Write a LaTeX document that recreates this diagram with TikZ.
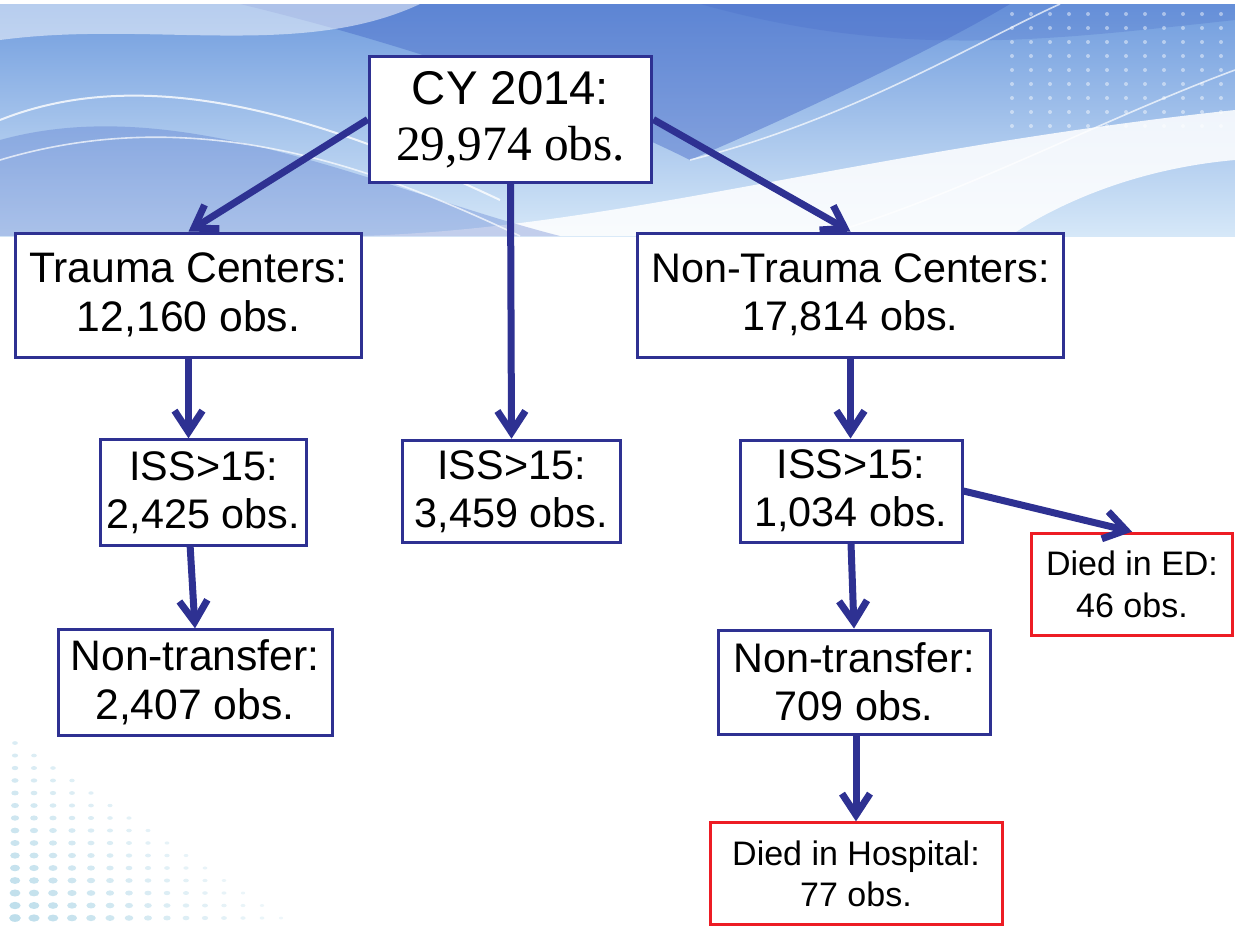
\documentclass[tikz,border=0pt]{standalone}
\usepackage{fontspec}
\setmainfont{Liberation Sans}
\newfontfamily\obsserif{Liberation Serif}
\usetikzlibrary{arrows.meta}

\definecolor{navy}{RGB}{46,49,146}
\definecolor{diedred}{RGB}{237,28,36}
\definecolor{skyA}{RGB}{112,156,222}
\definecolor{skyB}{RGB}{214,232,248}
\definecolor{skyC}{RGB}{70,105,200}
\definecolor{dotblue}{RGB}{186,220,234}

\tikzset{
  obsbox/.style={draw=navy, line width=2.25pt, fill=white, align=center, inner sep=0pt,
    font=\fontsize{31}{36}\selectfont},
  bigobs/.style={font=\fontsize{32}{37}\selectfont},
  diedbox/.style={obsbox, draw=diedred, font=\fontsize{25.5}{31}\selectfont},
  flow/.style={navy, line width=5.25pt, -{Straight Barb[length=16pt,width=21pt]}},
}

\begin{document}
\begin{tikzpicture}[x=0.75pt,y=0.75pt,yscale=-1,xscale=1]
\useasboundingbox (0,0) rectangle (1235,926);

%Banner
\shade[top color=skyA, bottom color=skyB] (0,4) rectangle (1235,236);
\fill[white, opacity=0.85] (360,236) .. controls (620,228) and (860,150) .. (1235,110) -- (1235,160) .. controls (1120,170) and (1040,215) .. (1010,236) -- cycle;
\fill[skyC, opacity=0.45] (240,4) .. controls (430,50) and (590,110) .. (690,160) .. controls (830,100) and (950,40) .. (1010,4) -- cycle;
\fill[skyC, opacity=0.3] (0,140) .. controls (180,90) and (380,190) .. (560,236) -- (0,236) -- cycle;
\fill[skyC, opacity=0.25] (700,4) .. controls (900,60) and (1050,40) .. (1235,20) -- (1235,4) -- cycle;
\fill[white, opacity=0.5] (0,40) .. controls (150,20) and (300,60) .. (420,4) -- (0,4) -- cycle;
\draw[white, line width=1.5pt, opacity=0.8] (0,120) .. controls (150,60) and (330,120) .. (500,200);
\draw[white, line width=1.2pt, opacity=0.7] (0,160) .. controls (200,100) and (380,170) .. (520,236);
\draw[white, line width=1.2pt, opacity=0.7] (690,160) .. controls (850,120) and (980,40) .. (1060,4);
\draw[white, line width=1.2pt, opacity=0.7] (820,236) .. controls (950,200) and (1100,120) .. (1235,70);
\foreach \i in {0,...,11}
  \foreach \j in {0,...,8}
    \fill[white, opacity=0.45] (1012+19*\i, 14+14*\j) circle (1.5pt);

%Dots lower left
\foreach \r in {0,...,14}{
  \pgfmathtruncatemacro\last{14-\r}
  \foreach \c in {0,...,\last}{
    \pgfmathsetmacro\rx{4.4-0.2*\c-0.16*\r}
    \pgfmathsetmacro\ry{0.65*\rx}
    \pgfmathsetmacro\op{0.95-0.05*\c-0.03*\r}
    \fill[dotblue, opacity=\op] (15+19*\c, 918-12.5*\r) ellipse [x radius=\rx pt, y radius=\ry pt];
  }
}

% Boxes
\node[obsbox, minimum width=212pt, minimum height=94pt, font=\fontsize{35.5}{42}\selectfont] (cy) at (510.5,119.5)
  {CY 2014:\\{\obsserif\fontsize{37}{42}\selectfont 29,974 obs.}};
\node[obsbox, bigobs, minimum width=260pt, minimum height=93pt] (trauma) at (188.5,295) {Trauma Centers:\\12,160 obs.};
\node[obsbox, minimum width=319pt, minimum height=93pt] (nontrauma) at (850.5,295) {Non-Trauma Centers:\\17,814 obs.};
\node[obsbox, minimum width=155pt, minimum height=79pt] (iss1) at (203.5,492.5) {ISS>15:\\2,425 obs.};
\node[obsbox, minimum width=164pt, minimum height=77pt] (iss2) at (511.5,491.5) {ISS>15:\\3,459 obs.};
\node[obsbox, minimum width=166.5pt, minimum height=76.5pt] (iss3) at (851,491) {ISS>15:\\1,034 obs.};
\node[obsbox, bigobs, minimum width=205.5pt, minimum height=79pt] (nt1) at (195,682.5) {Non-transfer:\\2,407 obs.};
\node[obsbox, minimum width=204pt, minimum height=78pt] (nt2) at (854,682) {Non-transfer:\\709 obs.};
\node[diedbox, minimum width=151pt, minimum height=77pt] (ed) at (1132,584.5) {Died in ED:\\46 obs.};
\node[diedbox, minimum width=219pt, minimum height=76pt] (hosp) at (856,873.5) {Died in Hospital:\\77 obs.};

% Arrows
\draw[flow] (cy.west) -- (trauma.north);
\draw[flow] (cy.east) -- (nontrauma.north);
\draw[flow] (cy.south) -- (iss2.north);
\draw[flow] (trauma.south) -- (trauma.south |- iss1.north);
\draw[flow] ([xshift=-10pt]iss1.south) -- (nt1.north);
\draw[flow] (nontrauma.south) -- (nontrauma.south |- iss3.north);
\draw[flow] (iss3.south) -- (nt2.north);
\draw[flow] (nt2.south -| hosp.north) -- (hosp.north);
\draw[flow] (iss3.east) -- (ed.north);

\end{tikzpicture}
\end{document}
